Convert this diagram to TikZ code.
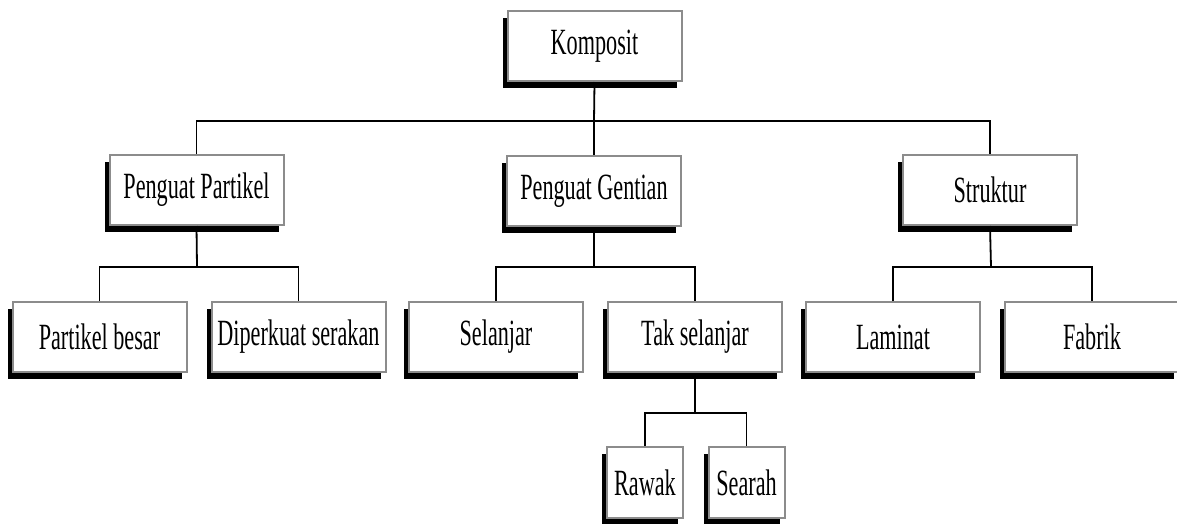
\documentclass[tikz,border=0pt]{standalone}
\usepackage{fontspec}
\setmainfont{Liberation Serif}
\newfontfamily\condfont[FakeStretch=0.6]{Liberation Serif}
\usetikzlibrary{shadows}
\begin{document}
\begin{tikzpicture}[x=1pt,y=-1pt,
  box/.style={draw=black!45, line width=2pt, fill=white, minimum width=174pt, minimum height=70pt,
    inner sep=0pt, font=\condfont\fontsize{37}{40}\selectfont,
    general shadow={fill=black, shadow xshift=-5pt, shadow yshift=-7pt}},
  smallbox/.style={box, minimum width=76pt, minimum height=71pt},
  conn/.style={line width=1.8pt, black}]
\useasboundingbox (0,0) rectangle (1177,523);
% junction points
\coordinate (j1) at (594,121);
\coordinate (j2) at (197,267);
\coordinate (j3) at (594,267);
\coordinate (j4) at (991,267);
\coordinate (j5) at (695,413);
% nodes
\node[box] (k) at (594.5,46) {Komposit};
\node[box] (pp) at (196.5,190) {Penguat Partikel};
\node[box] (pg) at (594,191) {Penguat Gentian};
\node[box] (st) at (990,190) {Struktur};
\node[box] (pb) at (99.5,337) {Partikel besar};
\node[box] (ds) at (298.5,337) {Diperkuat serakan};
\node[box] (se) at (496,337) {Selanjar};
\node[box] (ts) at (695,337) {Tak selanjar};
\node[box] (la) at (893,337) {Laminat};
\node[box] (fa) at (1092,337) {Fabrik};
\node[smallbox] (ra) at (645,482.5) {Rawak};
\node[smallbox] (sr) at (746.5,482.5) {Searah};
% lines
\draw[conn] (k.south) -- (j1);
\draw[conn] (pp.north) |- (j1) -| (st.north);
\draw[conn] (j1) -- (pg.north);
\draw[conn] (pp.south) -- (j2);
\draw[conn] (pb.north) |- (j2) -| (ds.north);
\draw[conn] (pg.south) -- (j3);
\draw[conn] (se.north) |- (j3) -| (ts.north);
\draw[conn] (st.south) -- (j4);
\draw[conn] (la.north) |- (j4) -| (fa.north);
\draw[conn] (ts.south) -- (j5);
\draw[conn] (ra.north) |- (j5) -| (sr.north);
\end{tikzpicture}
\end{document}
